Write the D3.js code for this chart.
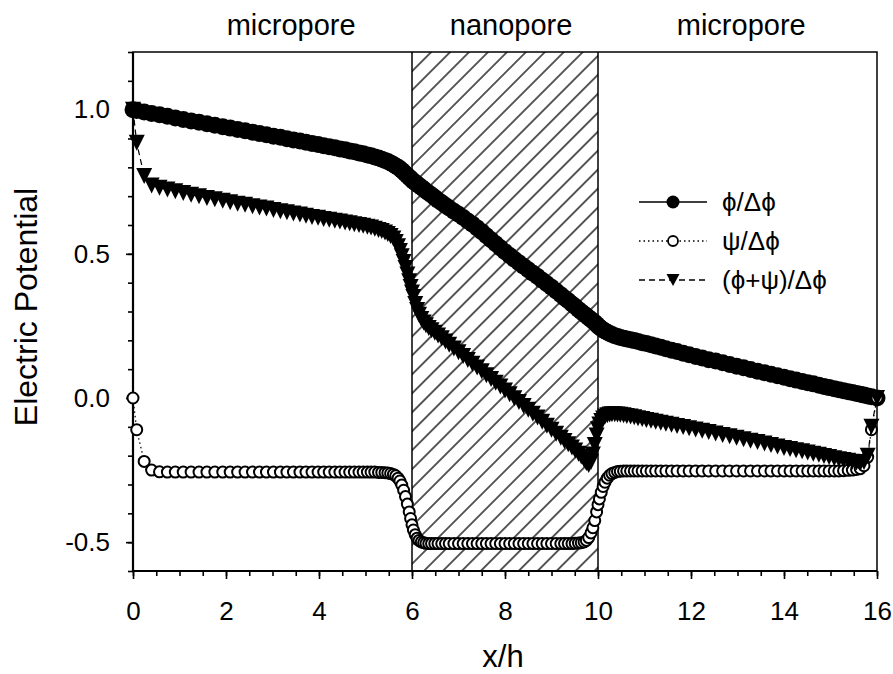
<!DOCTYPE html>
<html>
<head>
<meta charset="utf-8">
<script src="https://cdn.jsdelivr.net/npm/d3@7"></script>
<style>
  body { margin: 0; background: #fff; }
  svg { display: block; font-family: "Liberation Sans", Arial, sans-serif; }
</style>
</head>
<body>
<div id="chart"></div>
<script>
// grid positions x/h (micropore 0-6, nanopore 6-10, micropore 10-16)
const xh = [
  // left micropore
  0.00, 0.08, 0.24, 0.40, 0.57, 0.74, 0.91, 1.08, 1.25, 1.42,
  1.59, 1.76, 1.93, 2.09, 2.25, 2.41, 2.57, 2.72, 2.87, 3.02,
  3.17, 3.31, 3.45, 3.59, 3.72, 3.85, 3.98, 4.10, 4.22, 4.34,
  4.45, 4.56, 4.66, 4.76, 4.86, 4.95, 5.04, 5.12, 5.20, 5.28,
  5.35, 5.42, 5.48, 5.54, 5.60, 5.65, 5.70, 5.74, 5.78, 5.82,
  5.86, 5.90, 5.94, 5.97, 6.00,
  // nanopore
  6.03, 6.07, 6.11, 6.15, 6.20, 6.25, 6.30, 6.36, 6.42, 6.49,
  6.56, 6.64, 6.72, 6.80, 6.90, 7.00, 7.10, 7.20, 7.30, 7.40,
  7.50, 7.60, 7.70, 7.80, 7.90, 8.00, 8.10, 8.20, 8.30, 8.40,
  8.50, 8.60, 8.70, 8.80, 8.90, 9.00, 9.10, 9.20, 9.28, 9.36,
  9.44, 9.51, 9.58, 9.64, 9.70, 9.75, 9.80, 9.85, 9.89, 9.93,
  9.97, 10.00,
  // right micropore
  10.03, 10.07, 10.11, 10.15, 10.20, 10.25, 10.30, 10.36, 10.42, 10.48,
  10.55, 10.62, 10.70, 10.78, 10.86, 10.95, 11.04, 11.14, 11.24, 11.35,
  11.46, 11.58, 11.70, 11.83, 11.96, 12.10, 12.24, 12.38, 12.53, 12.68,
  12.83, 12.98, 13.13, 13.28, 13.43, 13.58, 13.72, 13.86, 14.00, 14.13,
  14.26, 14.39, 14.51, 14.63, 14.75, 14.86, 14.97, 15.08, 15.18, 15.28,
  15.38, 15.47, 15.56, 15.64, 15.72, 15.80, 15.88, 16.00
];

// phi / delta phi
const phi = [
  1.000, 0.997, 0.992, 0.987, 0.982, 0.977, 0.971, 0.966, 0.961, 0.956,
  0.951, 0.946, 0.941, 0.936, 0.931, 0.927, 0.922, 0.917, 0.913, 0.908,
  0.904, 0.899, 0.895, 0.891, 0.887, 0.883, 0.879, 0.875, 0.871, 0.868,
  0.864, 0.861, 0.857, 0.854, 0.850, 0.847, 0.843, 0.840, 0.836, 0.832,
  0.828, 0.824, 0.820, 0.815, 0.810, 0.805, 0.800, 0.795, 0.790, 0.784,
  0.778, 0.772, 0.766, 0.761, 0.756,
  0.752, 0.747, 0.742, 0.737, 0.731, 0.725, 0.718, 0.711, 0.704, 0.695,
  0.686, 0.677, 0.668, 0.659, 0.648, 0.637, 0.626, 0.614, 0.603, 0.590,
  0.577, 0.563, 0.549, 0.535, 0.521, 0.507, 0.494, 0.481, 0.469, 0.457,
  0.445, 0.433, 0.421, 0.408, 0.396, 0.384, 0.371, 0.358, 0.347, 0.337,
  0.326, 0.317, 0.307, 0.299, 0.291, 0.285, 0.278, 0.272, 0.267, 0.262,
  0.256, 0.250,
  0.246, 0.241, 0.236, 0.232, 0.228, 0.224, 0.220, 0.216, 0.213, 0.210,
  0.207, 0.205, 0.202, 0.199, 0.196, 0.192, 0.189, 0.185, 0.180, 0.176,
  0.171, 0.166, 0.161, 0.155, 0.150, 0.144, 0.139, 0.133, 0.128, 0.122,
  0.116, 0.110, 0.105, 0.099, 0.093, 0.088, 0.082, 0.077, 0.072, 0.067,
  0.062, 0.057, 0.053, 0.049, 0.044, 0.040, 0.036, 0.032, 0.029, 0.025,
  0.022, 0.019, 0.016, 0.013, 0.010, 0.007, 0.004, 0.000
];

// psi / delta phi
const psi = [
  0.000, -0.110, -0.220, -0.250, -0.256, -0.257, -0.257, -0.257, -0.257, -0.257,
  -0.257, -0.257, -0.257, -0.257, -0.257, -0.257, -0.257, -0.257, -0.257, -0.257,
  -0.257, -0.257, -0.257, -0.257, -0.257, -0.257, -0.257, -0.257, -0.257, -0.257,
  -0.257, -0.257, -0.257, -0.257, -0.257, -0.257, -0.257, -0.257, -0.257, -0.258,
  -0.258, -0.259, -0.260, -0.262, -0.265, -0.270, -0.278, -0.288, -0.302, -0.320,
  -0.342, -0.368, -0.395, -0.418, -0.440,
  -0.458, -0.474, -0.486, -0.494, -0.499, -0.502, -0.504, -0.505, -0.505, -0.505,
  -0.505, -0.505, -0.505, -0.505, -0.505, -0.505, -0.505, -0.505, -0.505, -0.505,
  -0.505, -0.505, -0.505, -0.505, -0.505, -0.505, -0.505, -0.505, -0.505, -0.505,
  -0.505, -0.505, -0.505, -0.505, -0.505, -0.505, -0.505, -0.505, -0.505, -0.505,
  -0.505, -0.504, -0.503, -0.502, -0.499, -0.494, -0.484, -0.468, -0.450, -0.425,
  -0.395, -0.370,
  -0.350, -0.327, -0.307, -0.292, -0.278, -0.268, -0.262, -0.258, -0.255, -0.254,
  -0.253, -0.253, -0.253, -0.253, -0.253, -0.253, -0.253, -0.253, -0.253, -0.253,
  -0.253, -0.253, -0.253, -0.253, -0.253, -0.253, -0.253, -0.253, -0.253, -0.253,
  -0.253, -0.253, -0.253, -0.253, -0.253, -0.253, -0.253, -0.253, -0.253, -0.253,
  -0.253, -0.253, -0.253, -0.253, -0.253, -0.253, -0.253, -0.253, -0.253, -0.252,
  -0.251, -0.250, -0.248, -0.245, -0.235, -0.205, -0.110, 0.000
];

// (phi + psi) / delta phi
const phiPsi = [
  1.000, 0.885, 0.770, 0.737, 0.729, 0.723, 0.717, 0.711, 0.705, 0.700,
  0.694, 0.689, 0.684, 0.679, 0.674, 0.670, 0.665, 0.661, 0.657, 0.652,
  0.648, 0.644, 0.640, 0.636, 0.632, 0.628, 0.625, 0.621, 0.618, 0.615,
  0.612, 0.609, 0.606, 0.603, 0.600, 0.597, 0.594, 0.591, 0.587, 0.583,
  0.579, 0.574, 0.569, 0.562, 0.553, 0.541, 0.526, 0.510, 0.492, 0.472,
  0.451, 0.428, 0.405, 0.385, 0.366,
  0.350, 0.326, 0.305, 0.289, 0.274, 0.262, 0.252, 0.243, 0.235, 0.226,
  0.217, 0.207, 0.196, 0.185, 0.172, 0.159, 0.146, 0.132, 0.119, 0.106,
  0.093, 0.079, 0.066, 0.053, 0.040, 0.026, 0.013, -0.001, -0.014, -0.028,
  -0.041, -0.055, -0.068, -0.082, -0.096, -0.110, -0.124, -0.138, -0.149, -0.160,
  -0.172, -0.182, -0.193, -0.203, -0.214, -0.225, -0.232, -0.222, -0.196, -0.163,
  -0.130, -0.108,
  -0.092, -0.080, -0.071, -0.064, -0.060, -0.057, -0.056, -0.056, -0.057, -0.058,
  -0.060, -0.062, -0.064, -0.067, -0.070, -0.073, -0.076, -0.079, -0.082, -0.086,
  -0.089, -0.093, -0.097, -0.101, -0.105, -0.109, -0.114, -0.118, -0.123, -0.128,
  -0.133, -0.138, -0.143, -0.148, -0.153, -0.158, -0.163, -0.168, -0.173, -0.177,
  -0.181, -0.185, -0.189, -0.193, -0.197, -0.201, -0.205, -0.209, -0.212, -0.215,
  -0.218, -0.221, -0.224, -0.226, -0.222, -0.200, -0.100, 0.000
];

const xTicks = [0, 2, 4, 6, 8, 10, 12, 14, 16];
const yTicks = [-0.5, 0.0, 0.5, 1.0];
const regionNames = ["micropore", "nanopore", "micropore"];
const nanoporeBounds = [6, 10];
const legendLabels = ["\u03D5/\u0394\u03D5", "\u03C8/\u0394\u03D5", "(\u03D5+\u03C8)/\u0394\u03D5"];

const width = 893, height = 674;
const x = d3.scaleLinear().domain([0, 16]).range([133, 877]);
const y = d3.scaleLinear().domain([-0.6, 1.2]).range([571, 52]);

const svg = d3.select("#chart").append("svg")
    .attr("width", width)
    .attr("height", height);

// Hatch pattern for nanopore
const defs = svg.append("defs");
defs.append("pattern")
    .attr("id", "hatch")
    .attr("patternUnits", "userSpaceOnUse")
    .attr("width", 13.4)
    .attr("height", 13.4)
    .attr("patternTransform", "rotate(45)")
    .append("line")
    .attr("x1", 6.7).attr("y1", -1)
    .attr("x2", 6.7).attr("y2", 14.4)
    .attr("stroke", "#000")
    .attr("stroke-width", 1.3);

svg.append("rect")
    .attr("x", x(nanoporeBounds[0]))
    .attr("y", y(1.2))
    .attr("width", x(nanoporeBounds[1]) - x(nanoporeBounds[0]))
    .attr("height", y(-0.6) - y(1.2))
    .attr("fill", "url(#hatch)");

svg.append("g")
    .selectAll("line")
    .data(nanoporeBounds)
    .enter()
    .append("line")
    .attr("x1", d => x(d)).attr("x2", d => x(d))
    .attr("y1", y(1.2)).attr("y2", y(-0.6))
    .attr("stroke", "#000")
    .attr("stroke-width", 1.5);

// Region labels above the frame
const regionLabelX = [3.4, 8.13, 13.08];
svg.append("g")
    .selectAll("text")
    .data(regionNames)
    .enter()
    .append("text")
    .attr("x", (d, i) => x(regionLabelX[i]))
    .attr("y", 35)
    .attr("text-anchor", "middle")
    .attr("font-size", "29px")
    .text(d => d);

// Axes (minor + major ticks, outward)
const xMinor = d3.range(0, 16.001, 0.5);
const yMinor = d3.range(-0.6, 1.2001, 0.1);

const xAxisMinor = svg.append("g")
    .attr("transform", `translate(0,${y(-0.6)})`)
    .call(d3.axisBottom(x).tickValues(xMinor).tickSize(5).tickSizeOuter(0).tickFormat(""));
const xAxis = svg.append("g")
    .attr("transform", `translate(0,${y(-0.6)})`)
    .call(d3.axisBottom(x).tickValues(xTicks).tickSize(8).tickSizeOuter(0).tickPadding(23));
const yAxisMinor = svg.append("g")
    .attr("transform", `translate(${x(0)},0)`)
    .call(d3.axisLeft(y).tickValues(yMinor).tickSize(5).tickSizeOuter(0).tickFormat(""));
const yAxis = svg.append("g")
    .attr("transform", `translate(${x(0)},0)`)
    .call(d3.axisLeft(y).tickValues(yTicks).tickSize(7).tickSizeOuter(0).tickPadding(16)
        .tickFormat(d => d3.format(".1f")(d).replace("\u2212", "-")));

[xAxisMinor, xAxis, yAxisMinor, yAxis].forEach(a => {
    a.select(".domain").remove();
    a.selectAll("line").attr("stroke", "#000").attr("stroke-width", 1.6);
    a.selectAll("text")
        .attr("fill", "#000")
        .attr("font-size", "26px")
        .attr("font-family", "'Liberation Sans', Arial, sans-serif");
});

// Frame
svg.append("rect")
    .attr("x", x(0)).attr("y", y(1.2))
    .attr("width", x(16) - x(0)).attr("height", y(-0.6) - y(1.2))
    .attr("fill", "none")
    .attr("stroke", "#000")
    .attr("stroke-width", 1.5);
svg.append("path")
    .attr("d", `M${x(0)},${y(1.2)}V${y(-0.6)}H${x(16)}`)
    .attr("fill", "none")
    .attr("stroke", "#000")
    .attr("stroke-width", 2.2);

// Axis titles
svg.append("text")
    .attr("transform", "translate(37,307) rotate(-90)")
    .attr("text-anchor", "middle")
    .attr("font-size", "32px")
    .text("Electric Potential");

svg.append("text")
    .attr("x", 503)
    .attr("y", 667)
    .attr("text-anchor", "middle")
    .attr("font-size", "31px")
    .text("x/h");

// Series
const idx = d3.range(xh.length);
const triangle = (w, h) => `M${-w / 2},${-h / 2}L${w / 2},${-h / 2}L0,${h / 2}Z`;

const series = [
    { values: phi, dash: null, marker: "filled" },
    { values: psi, dash: "1.5,3", marker: "open" },
    { values: phiPsi, dash: "6,4", marker: "triangle" }
];

const plot = svg.append("g");

series.forEach(s => {
    const line = d3.line()
        .x(i => x(xh[i]))
        .y(i => y(s.values[i]));

    plot.append("path")
        .datum(idx)
        .attr("d", line)
        .attr("fill", "none")
        .attr("stroke", "#000")
        .attr("stroke-width", 1.2)
        .attr("stroke-dasharray", s.dash);

    const marks = plot.append("g")
        .selectAll(".m")
        .data(idx)
        .enter();

    if (s.marker === "filled") {
        marks.append("circle")
            .attr("cx", i => x(xh[i]))
            .attr("cy", i => y(s.values[i]))
            .attr("r", 8.5)
            .attr("fill", "#000");
    } else if (s.marker === "open") {
        marks.append("circle")
            .attr("cx", i => x(xh[i]))
            .attr("cy", i => y(s.values[i]))
            .attr("r", 5.5)
            .attr("fill", "#fff")
            .attr("stroke", "#000")
            .attr("stroke-width", 2);
    } else {
        marks.append("path")
            .attr("transform", i => `translate(${x(xh[i])},${y(s.values[i])})`)
            .attr("d", triangle(16, 16))
            .attr("fill", "#000");
    }
});

// Legend
const legend = svg.append("g").attr("transform", "translate(639,202)");
const legendRowGap = 39;

legendLabels.forEach((label, i) => {
    const s = series[i];
    const row = legend.append("g").attr("transform", `translate(0,${i * legendRowGap})`);
    row.append("line")
        .attr("x1", 0).attr("x2", 68)
        .attr("y1", 0).attr("y2", 0)
        .attr("stroke", "#000")
        .attr("stroke-width", 1.3)
        .attr("stroke-dasharray", s.dash);
    if (s.marker === "filled") {
        row.append("circle").attr("cx", 34).attr("r", 6.5).attr("fill", "#000");
    } else if (s.marker === "open") {
        row.append("circle").attr("cx", 34).attr("r", 5)
            .attr("fill", "#fff").attr("stroke", "#000").attr("stroke-width", 1.8);
    } else {
        row.append("path").attr("transform", "translate(34,0)")
            .attr("d", triangle(13, 12)).attr("fill", "#000");
    }
    row.append("text")
        .attr("x", 83)
        .attr("y", 9)
        .attr("font-size", "26px")
        .text(label);
});
</script>
</body>
</html>
